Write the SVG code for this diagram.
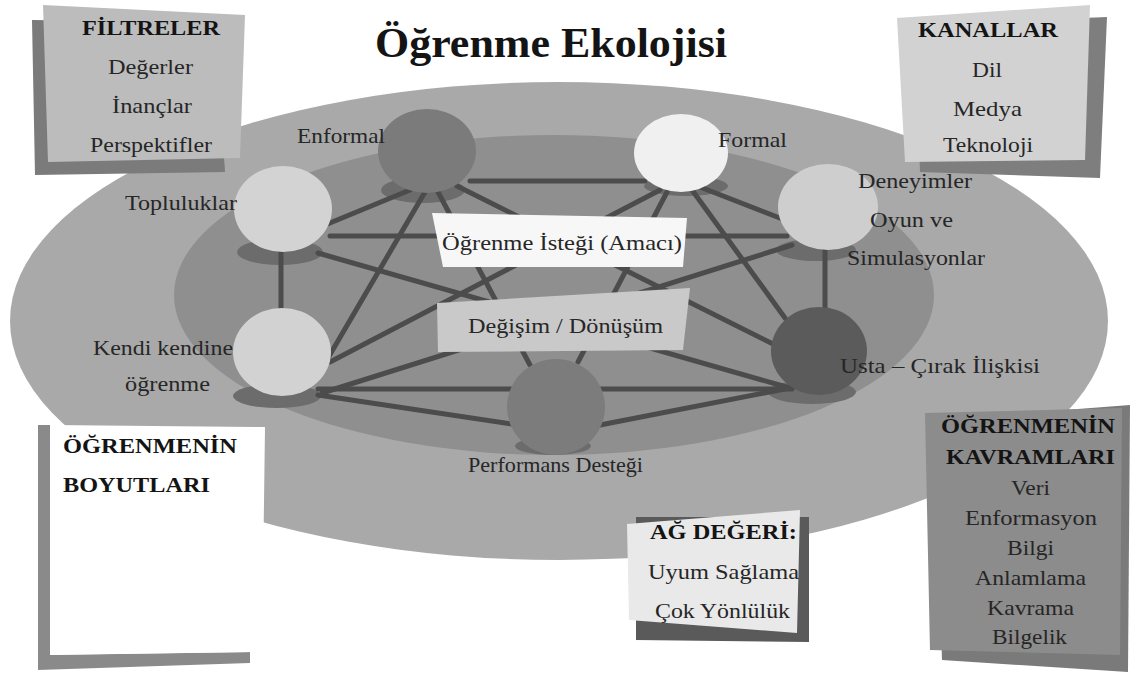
<svg xmlns="http://www.w3.org/2000/svg" width="1136" height="675" viewBox="0 0 1136 675">
<style>
.t{font-family:"Liberation Serif","Times New Roman",serif;fill:#262626;font-size:21px;text-anchor:start}
.b{font-weight:bold;fill:#141414}
.ttl{font-size:43px}
.ln{stroke:#4c4c4c;stroke-width:5;stroke-linecap:round;fill:none}
.sh{fill:#6c6c6c}
</style>
<rect width="1136" height="675" fill="#ffffff"/>
<g id="background">
<ellipse cx="559" cy="321" rx="549" ry="239" fill="#a9a9a9"/>
<ellipse cx="554" cy="295" rx="380" ry="160" fill="#8f8f8f"/>
</g>
<g id="title"><text class="t b ttl" x="375" y="57" textLength="352" lengthAdjust="spacingAndGlyphs">Öğrenme Ekolojisi</text></g>
<g id="shadows">
<ellipse class="sh" cx="423" cy="190" rx="42" ry="13"/>
<ellipse class="sh" cx="686" cy="186" rx="42" ry="10"/>
<ellipse class="sh" cx="280" cy="252" rx="43" ry="13"/>
<ellipse class="sh" cx="816" cy="250" rx="40" ry="11"/>
<ellipse class="sh" cx="277" cy="396" rx="44" ry="12"/>
<ellipse class="sh" cx="812" cy="392" rx="44" ry="12"/>
<ellipse class="sh" cx="553" cy="446" rx="38" ry="9"/>
</g>
<g id="connectors">
<line class="ln" x1="470" y1="181" x2="645" y2="181"/>
<line class="ln" x1="410" y1="190" x2="325" y2="225"/>
<line class="ln" x1="425" y1="192" x2="328" y2="358"/>
<line class="ln" x1="438" y1="192" x2="530" y2="365"/>
<line class="ln" x1="457" y1="186" x2="785" y2="350"/>
<line class="ln" x1="660" y1="190" x2="330" y2="362"/>
<line class="ln" x1="667" y1="192" x2="578" y2="362"/>
<line class="ln" x1="692" y1="190" x2="785" y2="318"/>
<line class="ln" x1="700" y1="187" x2="785" y2="220"/>
<line class="ln" x1="330" y1="236" x2="787" y2="236"/>
<line class="ln" x1="318" y1="253" x2="790" y2="388"/>
<line class="ln" x1="281" y1="250" x2="281" y2="310"/>
<line class="ln" x1="322" y1="393" x2="792" y2="245"/>
<line class="ln" x1="825" y1="250" x2="825" y2="310"/>
<line class="ln" x1="318" y1="389" x2="792" y2="389"/>
<line class="ln" x1="318" y1="395" x2="512" y2="424"/>
<line class="ln" x1="600" y1="425" x2="790" y2="388"/>
</g>
<g id="node-enformal">
<ellipse cx="427" cy="151" rx="49" ry="42" fill="#7b7b7b"/>
<text class="t" x="297" y="143" textLength="88" lengthAdjust="spacingAndGlyphs">Enformal</text>
</g>
<g id="node-formal">
<ellipse cx="681" cy="153" rx="47" ry="39" fill="#f0f0f0"/>
<text class="t" x="718" y="147" textLength="69" lengthAdjust="spacingAndGlyphs">Formal</text>
</g>
<g id="node-topluluklar">
<ellipse cx="283" cy="209" rx="49" ry="43" fill="#d3d3d3"/>
<text class="t" x="125" y="210" textLength="112" lengthAdjust="spacingAndGlyphs">Topluluklar</text>
</g>
<g id="node-deneyimler">
<ellipse cx="828" cy="207" rx="50" ry="43" fill="#cecece"/>
<text class="t" x="858" y="188" textLength="114" lengthAdjust="spacingAndGlyphs">Deneyimler</text>
<text class="t" x="870" y="227" textLength="83" lengthAdjust="spacingAndGlyphs">Oyun ve</text>
<text class="t" x="847" y="265" textLength="138" lengthAdjust="spacingAndGlyphs">Simulasyonlar</text>
</g>
<g id="node-kendi">
<ellipse cx="282" cy="352" rx="49" ry="44" fill="#d2d2d2"/>
<text class="t" x="93" y="355" textLength="140" lengthAdjust="spacingAndGlyphs">Kendi kendine</text>
<text class="t" x="125" y="391" textLength="85" lengthAdjust="spacingAndGlyphs">öğrenme</text>
</g>
<g id="node-usta">
<ellipse cx="819" cy="351" rx="48" ry="44" fill="#5b5b5b"/>
<text class="t" x="840" y="373" textLength="200" lengthAdjust="spacingAndGlyphs">Usta – Çırak İlişkisi</text>
</g>
<g id="node-performans">
<ellipse cx="556" cy="407" rx="49" ry="48" fill="#7c7c7c"/>
<text class="t" x="468" y="472" textLength="175" lengthAdjust="spacingAndGlyphs">Performans Desteği</text>
</g>
<g id="box-amac">
<polygon points="432,213 687,218 683,267 443,267" fill="#f7f7f7"/>
<text class="t" x="442" y="250" textLength="240" lengthAdjust="spacingAndGlyphs">Öğrenme İsteği (Amacı)</text>
</g>
<g id="box-degisim">
<polygon points="437,303 690,288 683,350 438,352" fill="#c9c9c9"/>
<text class="t" x="468" y="333" textLength="195" lengthAdjust="spacingAndGlyphs">Değişim / Dönüşüm</text>
</g>
<g id="box-filtreler">
<polygon points="32,20 215,22 225,172 35,175" fill="#7b7b7b"/>
<polygon points="43,5 245,15 240,158 48,162" fill="#bcbcbc"/>
<text class="t b" x="82" y="35" textLength="138" lengthAdjust="spacingAndGlyphs">FİLTRELER</text>
<text class="t" x="108" y="74" textLength="85" lengthAdjust="spacingAndGlyphs">Değerler</text>
<text class="t" x="112" y="113" textLength="80" lengthAdjust="spacingAndGlyphs">İnançlar</text>
<text class="t" x="90" y="152" textLength="122" lengthAdjust="spacingAndGlyphs">Perspektifler</text>
</g>
<g id="box-kanallar">
<polygon points="915,25 1107,17 1100,178 920,172" fill="#7e7e7e"/>
<polygon points="897,18 1090,5 1085,160 905,162" fill="#d2d2d2"/>
<text class="t b" x="918" y="37" textLength="140" lengthAdjust="spacingAndGlyphs">KANALLAR</text>
<text class="t" x="972" y="77" textLength="30" lengthAdjust="spacingAndGlyphs">Dil</text>
<text class="t" x="953" y="116" textLength="69" lengthAdjust="spacingAndGlyphs">Medya</text>
<text class="t" x="943" y="152" textLength="90" lengthAdjust="spacingAndGlyphs">Teknoloji</text>
</g>
<g id="box-boyutlari">
<polygon points="38,425 50,425 50,655 38,670" fill="#8a8a8a"/>
<polygon points="38,655 250,652 250,663 38,670" fill="#8a8a8a"/>
<polygon points="50,425 265,427 262,652 50,655" fill="#ffffff"/>
<text class="t b" x="63" y="453" textLength="174" lengthAdjust="spacingAndGlyphs">ÖĞRENMENİN</text>
<text class="t b" x="63" y="492" textLength="147" lengthAdjust="spacingAndGlyphs">BOYUTLARI</text>
</g>
<g id="box-ag-degeri">
<polygon points="636,517 809,517 809,642 636,640" fill="#5a5a5a"/>
<polygon points="627,524 800,510 797,633 629,620" fill="#e9e9e9"/>
<text class="t b" x="650" y="539" textLength="147" lengthAdjust="spacingAndGlyphs">AĞ DEĞERİ:</text>
<text class="t" x="648" y="579" textLength="151" lengthAdjust="spacingAndGlyphs">Uyum Sağlama</text>
<text class="t" x="655" y="618" textLength="135" lengthAdjust="spacingAndGlyphs">Çok Yönlülük</text>
</g>
<g id="box-kavramlari">
<polygon points="935,420 1130,405 1128,672 942,660" fill="#7a7a7a"/>
<polygon points="925,413 1122,408 1120,655 930,650" fill="#8c8c8c"/>
<text class="t b" x="941" y="433" textLength="174" lengthAdjust="spacingAndGlyphs">ÖĞRENMENİN</text>
<text class="t b" x="946" y="464" textLength="169" lengthAdjust="spacingAndGlyphs">KAVRAMLARI</text>
<text class="t" x="1011" y="495" textLength="39" lengthAdjust="spacingAndGlyphs">Veri</text>
<text class="t" x="965" y="525" textLength="132" lengthAdjust="spacingAndGlyphs">Enformasyon</text>
<text class="t" x="1007" y="555" textLength="47" lengthAdjust="spacingAndGlyphs">Bilgi</text>
<text class="t" x="975" y="585" textLength="111" lengthAdjust="spacingAndGlyphs">Anlamlama</text>
<text class="t" x="987" y="615" textLength="87" lengthAdjust="spacingAndGlyphs">Kavrama</text>
<text class="t" x="992" y="644" textLength="75" lengthAdjust="spacingAndGlyphs">Bilgelik</text>
</g>
</svg>
